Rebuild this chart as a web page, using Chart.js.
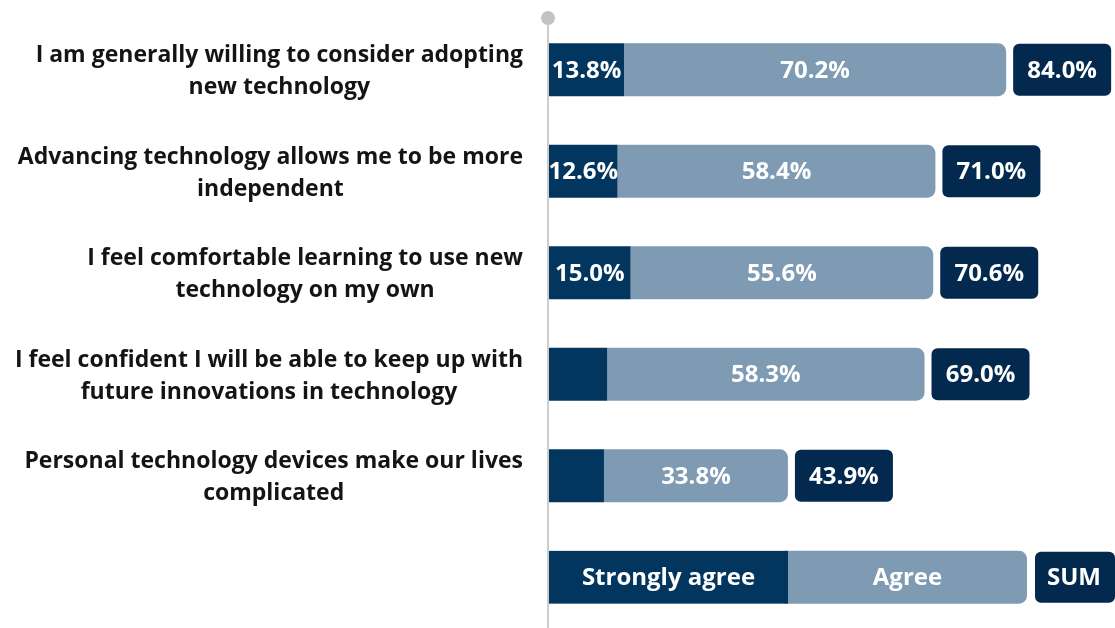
<!DOCTYPE html>
<html>
<head>
<meta charset="utf-8">
<script src="https://cdn.jsdelivr.net/npm/chart.js@4.4.1/dist/chart.umd.min.js"></script>
<style>
  html, body { margin: 0; padding: 0; background: #fff; }
  #wrap { width: 1115px; height: 628px; position: relative; }
</style>
</head>
<body>
<div id="wrap"><canvas id="chart"></canvas></div>
<script>
// --- DATA ---
const statements = [
    ['I am generally willing to consider adopting', 'new technology'],
    ['Advancing technology allows me to be more', 'independent'],
    ['I feel comfortable learning to use new', 'technology on my own'],
    ['I feel confident I will be able to keep up with', 'future innovations in technology'],
    ['Personal technology devices make our lives', 'complicated']
];
const stronglyAgree = [13.8, 12.6, 15.0, 10.7, 10.1];
const agree = [70.2, 58.4, 55.6, 58.3, 33.8];
const seriesNames = ['Strongly agree', 'Agree'];
const sumName = 'SUM';

// --- STYLE ---
const DARK = '#03365f';
const LIGHT = '#7f9bb4';
const SUM_BG = '#032a4e';
const FONT = '"Open Sans", Lato, sans-serif';
const LABEL_MIN = 12; // segments narrower than this get no value label

// last slot is left empty for the legend row
const slots = statements.map((s, i) => 'r' + i).concat(['legend']);
const pad = arr => arr.concat([null]);

const fmt = v => v.toFixed(1) + '%';

function roundRect(ctx, x, y, w, h, r) {
    ctx.beginPath();
    ctx.moveTo(x + r, y);
    ctx.arcTo(x + w, y, x + w, y + h, r);
    ctx.arcTo(x + w, y + h, x, y + h, r);
    ctx.arcTo(x, y + h, x, y, r);
    ctx.arcTo(x, y, x + w, y, r);
    ctx.closePath();
}

// vertical axis line with the round cap on top
const axisLine = {
    id: 'axisLine',
    beforeDatasetsDraw(chart) {
        const ctx = chart.ctx;
        const x0 = chart.scales.x.getPixelForValue(0) - 1;
        ctx.save();
        ctx.strokeStyle = '#cdcdcd';
        ctx.lineWidth = 2;
        ctx.beginPath();
        ctx.moveTo(x0, 18);
        ctx.lineTo(x0, chart.height);
        ctx.stroke();
        ctx.fillStyle = '#c2c2c2';
        ctx.beginPath();
        ctx.arc(x0, 18, 7, 0, Math.PI * 2);
        ctx.fill();
        ctx.restore();
    }
};

// statement text, lines centred on each other, block right-aligned
const statementLabels = {
    id: 'statementLabels',
    afterDraw(chart) {
        const ctx = chart.ctx;
        const yScale = chart.scales.y;
        const right = chart.scales.x.getPixelForValue(0) - 26;
        ctx.save();
        ctx.font = 'bold 23px ' + FONT;
        ctx.fillStyle = '#141414';
        ctx.textAlign = 'center';
        ctx.textBaseline = 'middle';
        statements.forEach((lines, i) => {
            const cy = yScale.getPixelForValue(i) + 2;
            const w = Math.max(...lines.map(l => ctx.measureText(l).width));
            const cx = right - w / 2;
            const lh = 32;
            lines.forEach((l, j) => {
                ctx.fillText(l, cx, cy + (j - (lines.length - 1) / 2) * lh);
            });
        });
        ctx.restore();
    }
};

// segment values, sum boxes and the legend row
const valueLabels = {
    id: 'valueLabels',
    afterDatasetsDraw(chart) {
        const ctx = chart.ctx;
        const xScale = chart.scales.x;
        const yScale = chart.scales.y;
        ctx.save();
        ctx.font = 'bold 24px ' + FONT;
        ctx.textAlign = 'center';
        ctx.textBaseline = 'middle';

        chart.data.datasets.forEach((ds, di) => {
            const meta = chart.getDatasetMeta(di);
            meta.data.forEach((bar, i) => {
                const v = ds.data[i];
                if (v == null || v < LABEL_MIN) return;
                ctx.fillStyle = '#fff';
                ctx.fillText(fmt(v), (bar.x + bar.base) / 2, bar.y + 1);
            });
        });

        const h = chart.getDatasetMeta(0).data[0].height;
        statements.forEach((s, i) => {
            const total = stronglyAgree[i] + agree[i];
            const cy = yScale.getPixelForValue(i);
            const x = xScale.getPixelForValue(total) + 7;
            const w = 98;
            ctx.fillStyle = SUM_BG;
            roundRect(ctx, x, cy - h / 2 + 0.5, w, h - 1, 6);
            ctx.fill();
            ctx.fillStyle = '#fff';
            ctx.fillText(fmt(total), x + w / 2, cy + 1);
        });

        // legend row
        const cy = yScale.getPixelForValue(statements.length);
        const x0 = xScale.getPixelForValue(0);
        const segW = 239;
        const top = cy - h / 2;
        ctx.fillStyle = LIGHT;
        roundRect(ctx, x0 + segW - 10, top, segW + 10, h, 8);
        ctx.fill();
        ctx.fillStyle = DARK;
        ctx.fillRect(x0, top, segW, h);
        ctx.fillStyle = SUM_BG;
        roundRect(ctx, x0 + 2 * segW + 8, top + 1, 80, h - 2, 6);
        ctx.fill();
        ctx.fillStyle = '#fff';
        ctx.fillText(seriesNames[0], x0 + segW / 2, cy + 1);
        ctx.fillText(seriesNames[1], x0 + segW * 1.5, cy + 1);
        ctx.fillText(sumName, x0 + 2 * segW + 47, cy + 1);
        ctx.restore();
    }
};

new Chart(document.getElementById('chart'), {
    type: 'bar',
    data: {
        labels: slots,
        datasets: [
            {
                label: seriesNames[0],
                data: pad(stronglyAgree),
                backgroundColor: DARK,
                borderRadius: 0,
                borderSkipped: false
            },
            {
                label: seriesNames[1],
                data: pad(agree),
                backgroundColor: LIGHT,
                borderRadius: 8,
                borderSkipped: 'start'
            }
        ]
    },
    options: {
        indexAxis: 'y',
        responsive: true,
        maintainAspectRatio: false,
        animation: false,
        layout: { padding: { left: 549, top: 19, right: 0, bottom: 0 } },
        datasets: { bar: { categoryPercentage: 1, barPercentage: 0.52 } },
        plugins: {
            legend: { display: false },
            tooltip: { enabled: false }
        },
        scales: {
            x: { stacked: true, min: 0, max: 104, display: false },
            y: { stacked: true, display: false }
        }
    },
    plugins: [axisLine, statementLabels, valueLabels]
});
</script>
</body>
</html>
